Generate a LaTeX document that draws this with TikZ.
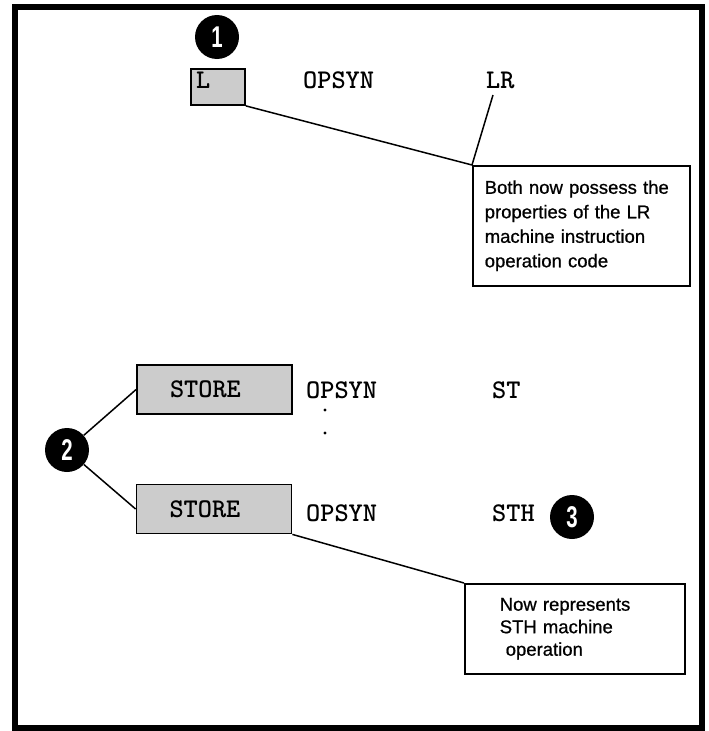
\documentclass[tikz,border=0pt]{standalone}
\usepackage{fontspec}
\usepackage{tikz}
\newfontfamily\notefont[FakeBold=0.8]{Liberation Sans}
\newfontfamily\numfont[FakeStretch=0.68]{Liberation Sans}

\begin{document}
\begin{tikzpicture}[
  x=1pt, y=-1pt,
  numcirc/.style={circle, fill=black, text=white, minimum size=44pt,
                  inner sep=0pt, font=\numfont\bfseries\fontsize{30}{30}\selectfont},
  opbox/.style={draw, line width=1.8pt, fill=black!20, inner sep=0pt},
  code/.style={anchor=base west, inner sep=0pt,
               font=\ttfamily\bfseries\fontsize{27}{27}\selectfont},
  note/.style={draw, line width=1.5pt, anchor=north west, align=left,
               inner ysep=0pt, font=\notefont\fontsize{18.5}{24.5}\selectfont},
  link/.style={line width=1.5pt},
  gapdot/.style={circle, fill=black, inner sep=0pt, minimum size=3.2pt},
]
\useasboundingbox (0,0) rectangle (709,731);
\draw[line width=6pt] (14.5,6.5) rectangle (702,727.5);

\node[numcirc] (c1) at (217,37) {1};
\node[opbox, minimum width=54pt, minimum height=36pt] (lbox) at (218,87) {};
\node[code] (lname) at (196,88) {L};
\node[code] (op1) at (303,88) {OPSYN};
\node[code] (lrname) at (486,88) {LR};
\node[note, minimum height=120pt, text width=193pt, inner xsep=12pt] (note1) at (472,165)
  {Both now possess the\\properties of the LR\\machine instruction\\operation code};

\node[numcirc] (c2) at (67,450) {2};
\node[opbox, minimum height=49pt, text width=89pt, inner xsep=33pt, align=left,
      font=\ttfamily\bfseries\fontsize{27}{27}\selectfont] (store1) at (214.5,389.5) {STORE};
\node[code] (op2) at (306,398) {OPSYN};
\node[code] (stname) at (492,398) {ST};
\node[gapdot] (gap1) at (325,410) {};
\node[gapdot] (gap2) at (325,433) {};
\node[opbox, minimum height=49pt, text width=89pt, inner xsep=33pt, align=left,
      font=\ttfamily\bfseries\fontsize{27}{27}\selectfont] (store2) at (214,509) {STORE};
\node[code] (op3) at (306,521) {OPSYN};
\node[code] (sthname) at (492,521) {STH};
\node[numcirc] (c3) at (572,517) {3};
\node[note, minimum height=90pt, text width=150pt, inner xsep=35pt,
      font=\notefont\fontsize{18.5}{22.5}\selectfont] (note2) at (464,583)
  {Now represents\\STH machine\\\hspace*{6pt}operation};

\draw[link] (lbox.south east) -- (note1.north west);
\draw[link] ([shift={(7pt,-7pt)}]lrname.base west) -- (note1.north west);
\draw[link] (c2) -- (store1.west);
\draw[link] (c2) -- (store2.west);
\draw[link] (store2.south east) -- (note2.north west);
\end{tikzpicture}
\end{document}
